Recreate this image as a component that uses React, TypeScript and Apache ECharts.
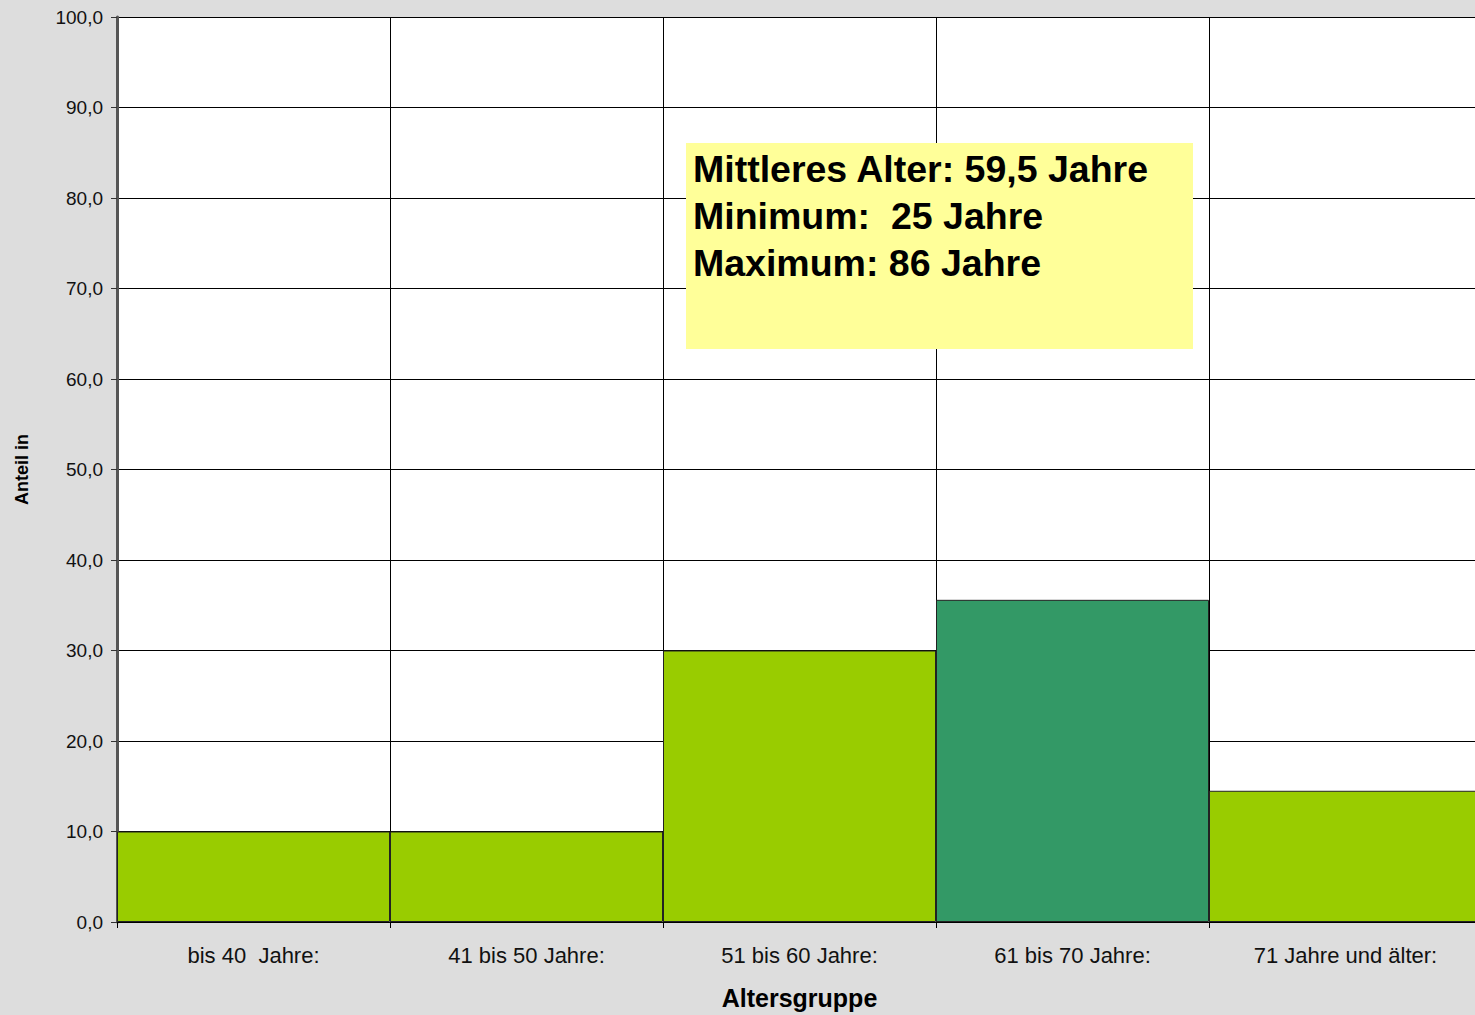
import React, { useEffect, useRef } from "react";
import * as echarts from "echarts";

const categories = ["bis 40  Jahre:", "41 bis 50 Jahre:", "51 bis 60 Jahre:", "61 bis 70 Jahre:", "71 Jahre und älter:"];
const values = [10.0, 10.0, 30.0, 35.6, 14.5];
const barColors = ["#99CC00", "#99CC00", "#99CC00", "#339966", "#99CC00"];
const infoLines = ["Mittleres Alter: 59,5 Jahre", "Minimum:  25 Jahre", "Maximum: 86 Jahre"];

export default function App() {
  const ref = useRef<HTMLDivElement>(null);
  useEffect(() => {
    document.body.style.margin = "0";
    document.documentElement.style.overflow = "hidden";
    const chart = echarts.init(ref.current!, null, { renderer: "svg" });
    const font = "'Liberation Sans', Arial, sans-serif";
    chart.setOption({
      animation: false,
      backgroundColor: "#DDDDDD",
      textStyle: { fontFamily: font },
      grid: {
        left: 117,
        top: 17,
        width: 1365,
        height: 905,
        backgroundColor: "#FFFFFF",
        show: true,
        borderWidth: 0,
        containLabel: false,
        outerBoundsMode: "none",
      },
      xAxis: {
        type: "category",
        data: categories,
        name: "Altersgruppe",
        nameLocation: "middle",
        nameGap: 63,
        nameTextStyle: { fontSize: 25, fontWeight: "bold", color: "#000", fontFamily: font },
        axisLine: { lineStyle: { color: "#000", width: 1 } },
        axisTick: { show: true, length: 6, lineStyle: { color: "#000" } },
        axisLabel: { fontSize: 22, color: "#111", margin: 22, fontFamily: font },
        splitLine: { show: true, lineStyle: { color: "#000", width: 1 } },
      },
      yAxis: {
        type: "value",
        min: 0,
        max: 100,
        interval: 10,
        name: "Anteil in",
        nameLocation: "middle",
        nameGap: 86,
        nameTextStyle: { fontSize: 18, fontWeight: "bold", color: "#000", fontFamily: font },
        axisLine: { show: true, lineStyle: { color: "#555", width: 3 } },
        axisTick: { show: true, length: 6, lineStyle: { color: "#333" } },
        axisLabel: {
          fontSize: 19,
          color: "#111",
          margin: 14,
          fontFamily: font,
          formatter: (v: number) => v.toFixed(1).replace(".", ","),
        },
        splitLine: { show: true, lineStyle: { color: "#000", width: 1 } },
      },
      series: [
        {
          type: "bar",
          barCategoryGap: 0,
          data: values.map((v, i) => ({ value: v, itemStyle: { color: barColors[i] } })),
          itemStyle: { borderColor: "#222", borderWidth: 1 },
        },
      ],
      graphic: [
        {
          type: "rect",
          left: 686,
          top: 143,
          shape: { width: 507, height: 206 },
          style: { fill: "#FFFF99" },
          z: 100,
        },
        ...infoLines.map((t, i) => ({
          type: "text",
          left: 693,
          top: 150 + i * 47,
          z: 101,
          style: { text: t, font: `bold 37.5px ${font}`, fill: "#000" },
        })),
      ],
    });
    return () => chart.dispose();
  }, []);
  return <div ref={ref} style={{ position: "absolute", left: 0, top: 0, width: 1490, height: 1015 }} />;
}
